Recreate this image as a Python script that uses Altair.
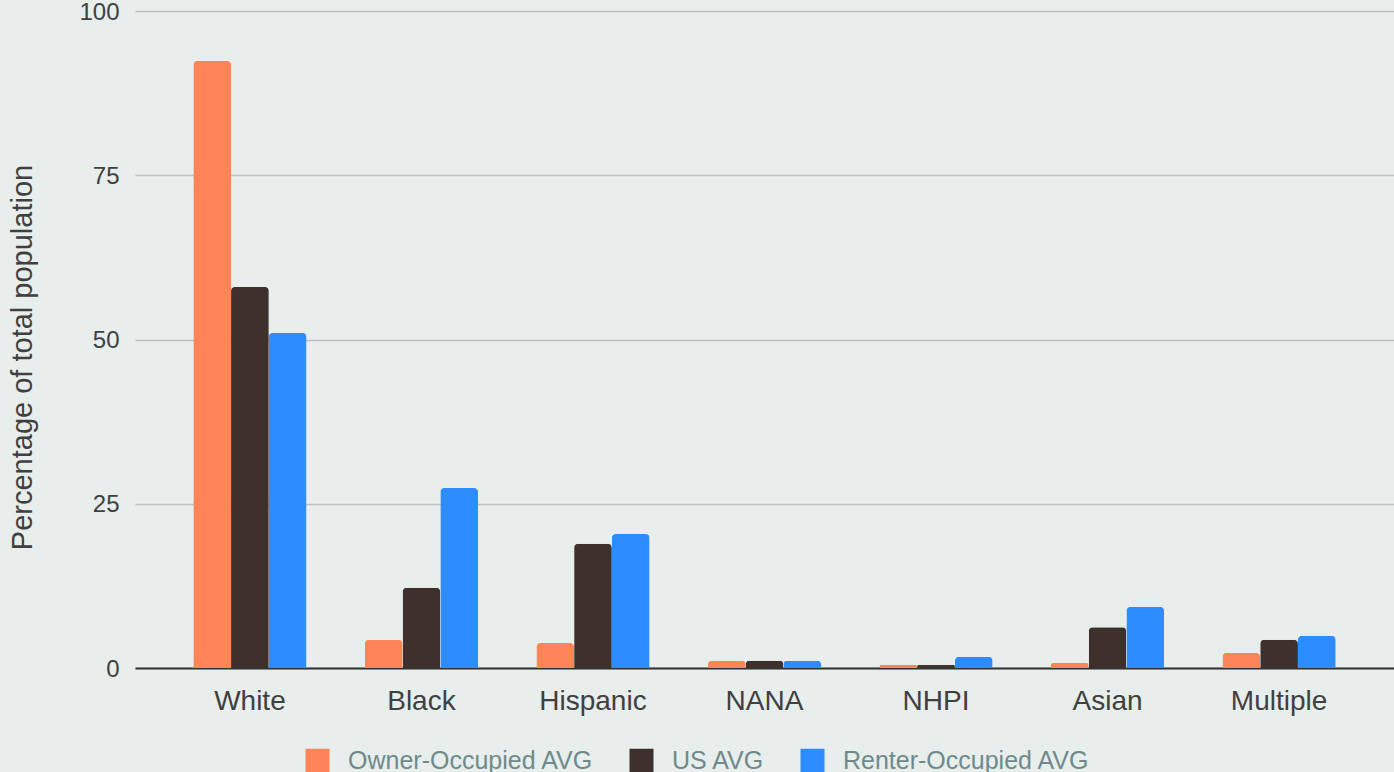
import altair as alt
import pandas as pd

categories = ["White", "Black", "Hispanic", "NANA", "NHPI", "Asian", "Multiple"]
series = ["Owner-Occupied AVG", "US AVG", "Renter-Occupied AVG"]
owner = [92.4, 4.3, 3.8, 1.1, 0.5, 0.8, 2.3]
us = [58.0, 12.2, 18.9, 1.1, 0.5, 6.2, 4.3]
renter = [51.0, 27.4, 20.4, 1.1, 1.7, 9.3, 4.9]
colors = ["#FF8558", "#3D302D", "#2D8CFF"]

rows = []
for i, c in enumerate(categories):
    for s, vals in zip(series, [owner, us, renter]):
        rows.append({"category": c, "series": s, "value": vals[i]})
df = pd.DataFrame(rows)

FONT = "Liberation Sans"

bars = alt.Chart(df).mark_bar(cornerRadiusTopLeft=4, cornerRadiusTopRight=4).encode(
    x=alt.X("category:N", sort=categories,
            scale=alt.Scale(paddingInner=0.34, paddingOuter=0.34),
            axis=alt.Axis(title=None, labelAngle=0, labelFontSize=28, labelColor="#404040",
                          labelPadding=19, ticks=False, domainColor="#333333", domainWidth=2,
                          labelFont=FONT)),
    xOffset=alt.XOffset("series:N", sort=series),
    y=alt.Y("value:Q", scale=alt.Scale(domain=[0, 100]),
            axis=alt.Axis(title="Percentage of total population", values=[0, 25, 50, 75, 100],
                          titleFontSize=29, titleFontWeight="normal", titleColor="#404040",
                          titleX=-104, titleY=346, titleAngle=270, titleAlign="center",
                          titleBaseline="alphabetic",
                          labelFontSize=24, labelColor="#404040", labelOffset=1,
                          labelPadding=16, ticks=False, domain=False,
                          gridColor="#BDBFBD", gridWidth=1.5, labelFont=FONT,
                          titleFont=FONT)),
    color=alt.Color("series:N", sort=series,
                    scale=alt.Scale(domain=series, range=colors),
                    legend=alt.Legend(title=None, orient="none", direction="horizontal",
                                      legendX=170, legendY=737, symbolType="square",
                                      symbolSize=576, symbolStrokeWidth=0, labelFontSize=25,
                                      labelColor="#6F8A8B", labelFont=FONT, labelLimit=500,
                                      columnPadding=35, labelOffset=18, symbolOpacity=1)),
)

chart = bars.properties(
    width=1259, height=657,
    background="#E8EEEC",
    padding={"left": 135, "top": 11, "right": 0, "bottom": 104},
    autosize=alt.AutoSizeParams(type="none"),
).configure_view(stroke=None)

chart.save("out.html", embed_options={"renderer": "svg", "actions": False})
